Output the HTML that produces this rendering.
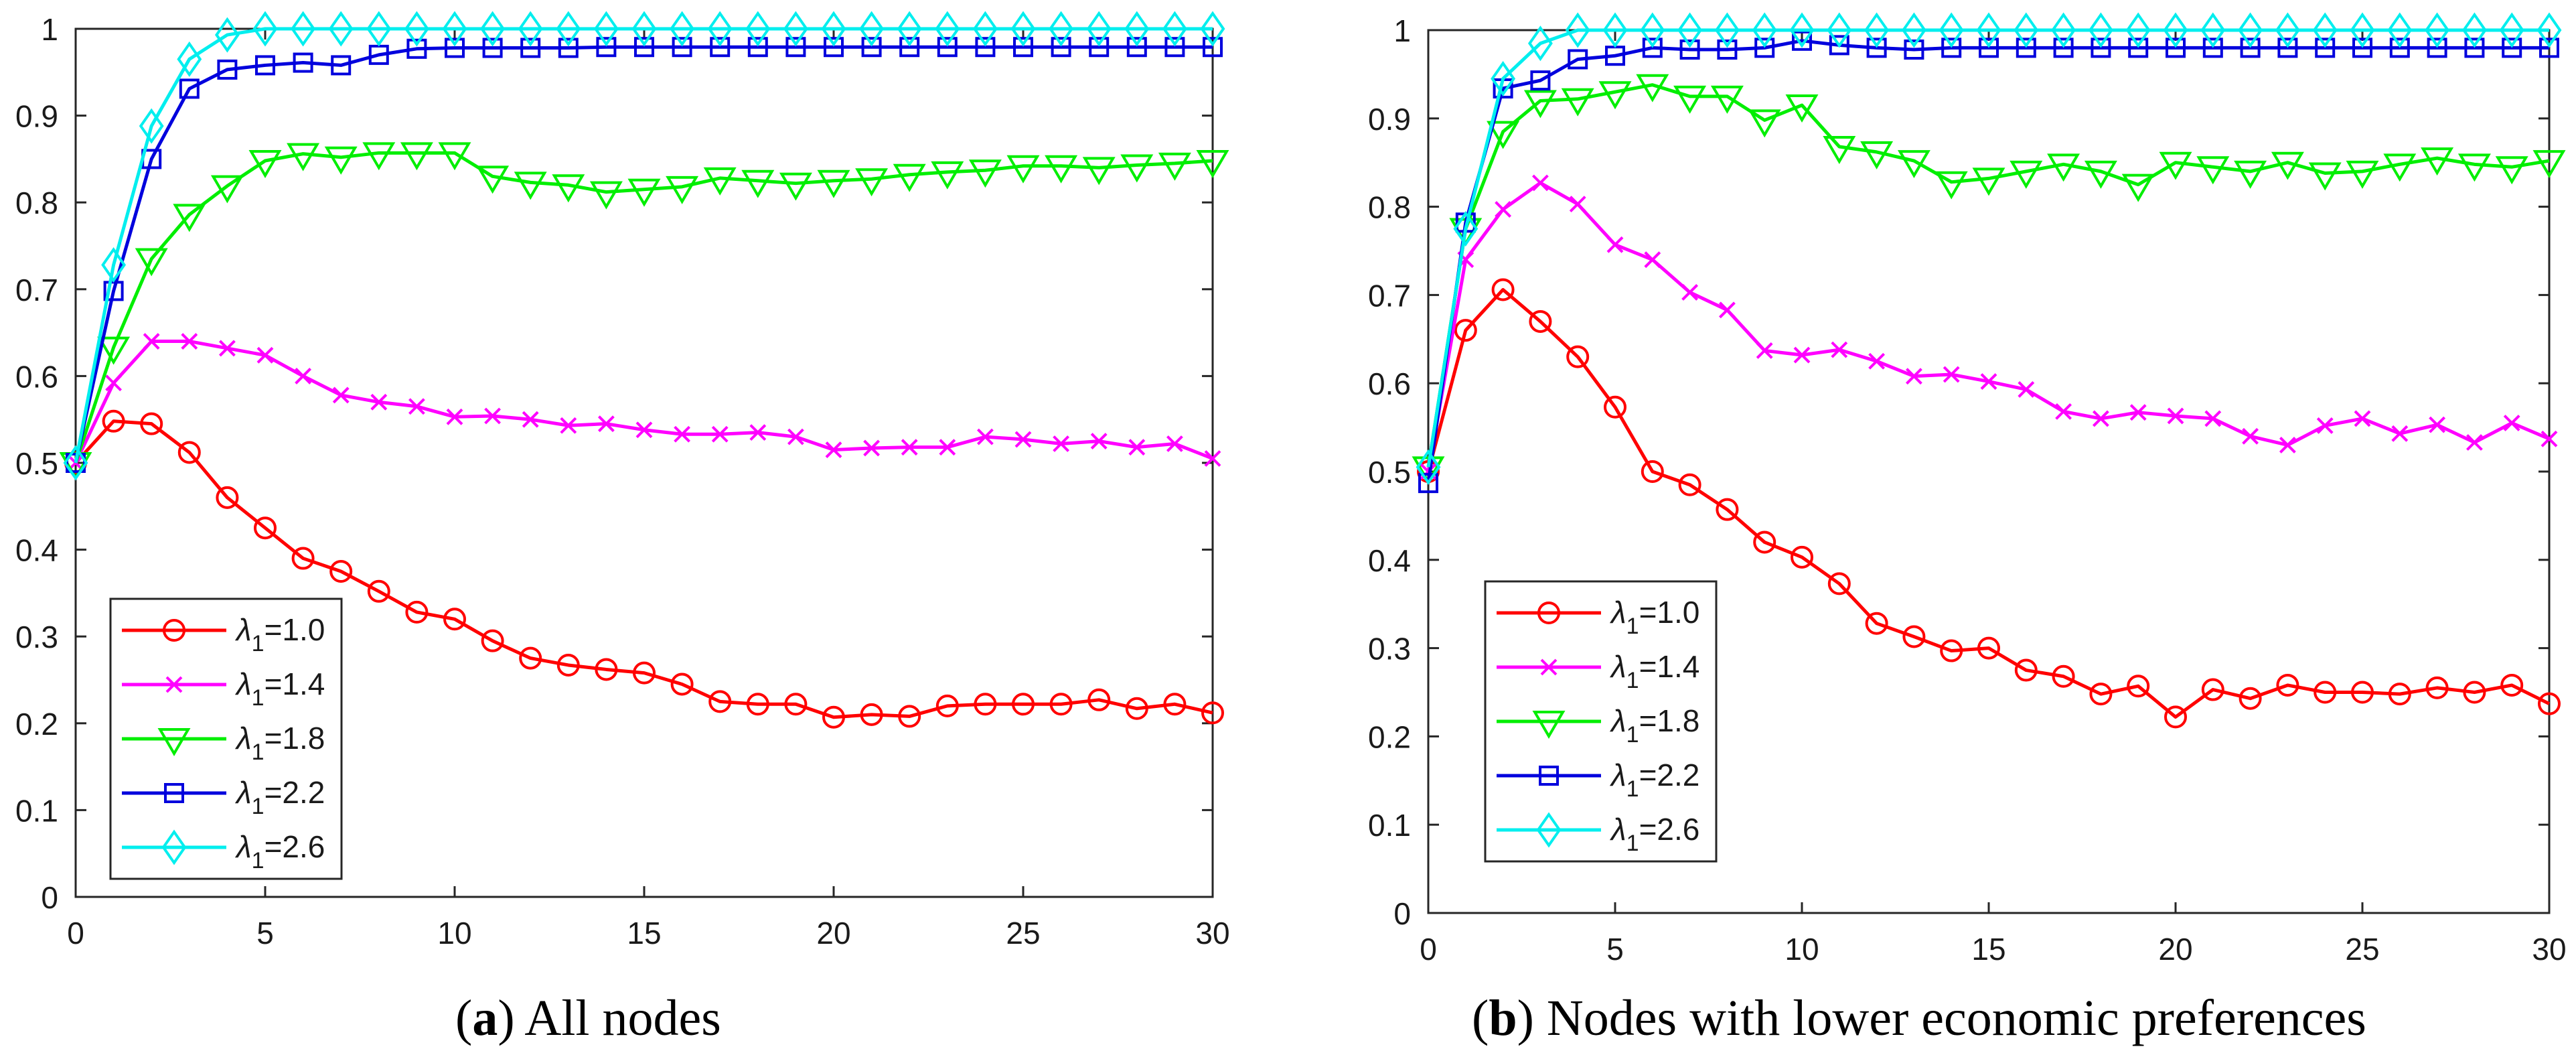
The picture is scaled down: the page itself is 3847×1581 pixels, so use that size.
<!DOCTYPE html>
<html><head><meta charset="utf-8"><style>
html,body{margin:0;padding:0;background:#fff;}
svg{display:block;}
text{font-family:"Liberation Sans",Arial,sans-serif;fill:#1a1a1a;}
.cap{font-family:"Liberation Serif","Times New Roman",serif;font-size:76px;fill:#000;}
</style></head><body>
<svg id="fig" width="3847" height="1581" viewBox="0 0 3847 1581" xmlns="http://www.w3.org/2000/svg">
<text class="cap" x="680" y="1545"><tspan>(</tspan><tspan font-weight="bold">a</tspan><tspan>) All nodes</tspan></text>
<text class="cap" x="2198" y="1545"><tspan>(</tspan><tspan font-weight="bold">b</tspan><tspan>) Nodes with lower economic preferences</tspan></text>
</svg>
<script>
const xTicks = [0,5,10,15,20,25,30];
const yTicks = [0,0.1,0.2,0.3,0.4,0.5,0.6,0.7,0.8,0.9,1];
const yTickLabels = ["0","0.1","0.2","0.3","0.4","0.5","0.6","0.7","0.8","0.9","1"];
const seriesNames = ["1.0","1.4","1.8","2.2","2.6"];

const a_red = [0.5,0.548,0.545,0.512,0.46,0.425,0.39,0.375,0.352,0.328,0.32,0.295,0.275,0.267,0.262,0.258,0.245,0.225,0.222,0.222,0.207,0.21,0.208,0.22,0.222,0.222,0.222,0.227,0.217,0.222,0.212];
const a_mag = [0.5,0.592,0.64,0.64,0.632,0.624,0.6,0.578,0.57,0.565,0.553,0.554,0.55,0.543,0.545,0.538,0.533,0.533,0.535,0.53,0.515,0.517,0.518,0.518,0.53,0.527,0.522,0.525,0.518,0.522,0.505];
const a_green = [0.5,0.633,0.735,0.786,0.819,0.848,0.856,0.852,0.857,0.857,0.857,0.83,0.823,0.82,0.812,0.815,0.818,0.828,0.825,0.822,0.825,0.827,0.832,0.835,0.837,0.842,0.842,0.84,0.843,0.845,0.848];
const a_blue = [0.5,0.698,0.85,0.931,0.953,0.958,0.961,0.958,0.97,0.977,0.978,0.978,0.978,0.978,0.979,0.979,0.979,0.979,0.979,0.979,0.979,0.979,0.979,0.979,0.979,0.979,0.979,0.979,0.979,0.979,0.979];
const a_cyan = [0.5,0.728,0.888,0.965,0.993,1,1,1,1,1,1,1,1,1,1,1,1,1,1,1,1,1,1,1,1,1,1,1,1,1,1];

const b_red = [0.5,0.66,0.706,0.67,0.63,0.573,0.5,0.485,0.457,0.42,0.403,0.373,0.328,0.313,0.297,0.3,0.275,0.268,0.248,0.257,0.222,0.253,0.243,0.258,0.25,0.25,0.248,0.255,0.25,0.258,0.237];
const b_mag = [0.5,0.74,0.797,0.827,0.803,0.757,0.74,0.703,0.683,0.637,0.632,0.638,0.625,0.608,0.61,0.602,0.593,0.568,0.56,0.567,0.563,0.56,0.54,0.53,0.552,0.56,0.543,0.553,0.533,0.555,0.537];
const b_green = [0.505,0.775,0.885,0.92,0.922,0.93,0.938,0.925,0.925,0.898,0.915,0.868,0.862,0.852,0.828,0.832,0.84,0.848,0.84,0.825,0.85,0.845,0.84,0.85,0.838,0.84,0.848,0.855,0.848,0.845,0.852];
const b_blue = [0.487,0.782,0.934,0.943,0.967,0.971,0.98,0.978,0.978,0.98,0.988,0.983,0.98,0.978,0.98,0.98,0.98,0.98,0.98,0.98,0.98,0.98,0.98,0.98,0.98,0.98,0.98,0.98,0.98,0.98,0.98];
const b_cyan = [0.505,0.775,0.945,0.985,1,1,1,1,1,1,1,1,1,1,1,1,1,1,1,1,1,1,1,1,1,1,1,1,1,1,1];

const NS = "http://www.w3.org/2000/svg";
const svg = document.getElementById('fig');
const colors = ["#ff0000","#ff00ff","#00ee00","#0000dd","#00eeee"];
const markers = ["circle","x","tri","square","diamond"];

function mk(tag, attrs, parent){
  const e = document.createElementNS(NS, tag);
  for (const k in attrs) e.setAttribute(k, attrs[k]);
  parent.appendChild(e);
  return e;
}
function drawMarker(g, type, cx, cy, color){
  let e;
  if (type==="circle") e = mk('circle',{cx:cx,cy:cy,r:15,fill:'none',stroke:color,'stroke-width':4},g);
  else if (type==="x") e = mk('path',{d:`M${cx-11},${cy-11}L${cx+11},${cy+11}M${cx-11},${cy+11}L${cx+11},${cy-11}`,stroke:color,'stroke-width':4,fill:'none'},g);
  else if (type==="tri") e = mk('path',{d:`M${cx-21},${cy-14}L${cx+21},${cy-14}L${cx},${cy+22}Z`,stroke:color,'stroke-width':4,fill:'none'},g);
  else if (type==="square") e = mk('rect',{x:cx-13,y:cy-13,width:26,height:26,stroke:color,'stroke-width':4,fill:'none'},g);
  else e = mk('path',{d:`M${cx},${cy-23}L${cx+16},${cy}L${cx},${cy+23}L${cx-16},${cy}Z`,stroke:color,'stroke-width':4,fill:'none'},g);
  
  
}

function drawChart(id, L, R, T, B, series, legX, legBottom){
  const g = mk('g',{},svg);
  
  
  const sx = v => L + (v/30)*(R-L);
  const sy = v => B - v*(B-T);
  // axes box
  const box = mk('rect',{x:L,y:T,width:R-L,height:B-T,fill:'none',stroke:'#262626','stroke-width':3},g);
  
  
  xTicks.forEach(t=>{
    const x = sx(t);
    mk('line',{x1:x,y1:B,x2:x,y2:B-16,stroke:'#262626','stroke-width':3},g);
    mk('line',{x1:x,y1:T,x2:x,y2:T+16,stroke:'#262626','stroke-width':3},g);
    const tx = mk('text',{x:x,y:B+70,'font-size':46,'text-anchor':'middle'},g);
    tx.textContent = String(t);
    
    
  });
  yTicks.forEach((t,i)=>{
    const y = sy(t);
    mk('line',{x1:L,y1:y,x2:L+16,y2:y,stroke:'#262626','stroke-width':3},g);
    mk('line',{x1:R,y1:y,x2:R-16,y2:y,stroke:'#262626','stroke-width':3},g);
    const ty = mk('text',{x:L-26,y:y+17,'font-size':46,'text-anchor':'end'},g);
    ty.textContent = yTickLabels[i];
    
    
  });
  series.forEach((vals,si)=>{
    const sg = mk('g',{},g);
    
    
    const pts = vals.map((v,i)=>sx(i)+','+sy(v)).join(' ');
    const pl = mk('polyline',{points:pts,fill:'none',stroke:colors[si],'stroke-width':5,'stroke-linejoin':'round'},sg);
    
    
    vals.forEach((v,i)=>drawMarker(sg, markers[si], sx(i), sy(v), colors[si]));
  });
  // legend
  const lg = mk('g',{},g);
  
  
  const legTop = legBottom - 418;
  mk('rect',{x:legX,y:legTop,width:345,height:418,fill:'#fff',stroke:'#262626','stroke-width':3},lg);
  seriesNames.forEach((n,i)=>{
    const y = legTop + 47 + i*81;
    const eg = mk('g',{},lg);
    
    
    mk('line',{x1:legX+17,y1:y,x2:legX+173,y2:y,stroke:colors[i],'stroke-width':5},eg);
    drawMarker(eg, markers[i], legX+95, y, colors[i]);
    const t = mk('text',{x:legX+188,y:y+15,'font-size':46},eg);
    const s1 = mk('tspan',{'font-style':'italic'},t); s1.textContent='λ';
    const s2 = mk('tspan',{'font-size':34,dy:16},t); s2.textContent='1';
    const s3 = mk('tspan',{dy:-16},t); s3.textContent='='+n;
  });
}
drawChart('a',113,1811,43,1339,[a_red,a_mag,a_green,a_blue,a_cyan],165,1312);
drawChart('b',2133,3807,45,1363,[b_red,b_mag,b_green,b_blue,b_cyan],2218,1286);
</script>
</body></html>
